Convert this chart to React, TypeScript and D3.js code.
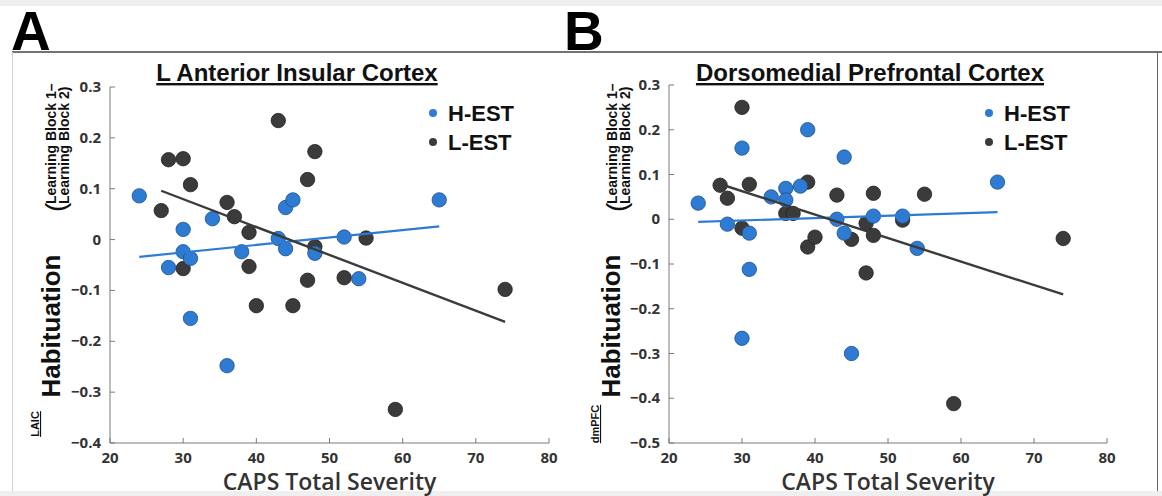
import React from "react";
import * as d3 from "d3";

// CAPS total severity ticks
const xTicks = [20, 30, 40, 50, 60, 70, 80];
const yTicksA = [0.3, 0.2, 0.1, 0, -0.1, -0.2, -0.3, -0.4];
const yTicksB = [0.3, 0.2, 0.1, 0, -0.1, -0.2, -0.3, -0.4, -0.5];

// panel A - L anterior insular cortex
const hestAx = [24, 28, 30, 30, 31, 31, 34, 38, 36, 43, 44, 44, 45, 48, 52, 54, 65];
const hestAy = [0.086, -0.055, 0.02, -0.024, -0.037, -0.155, 0.041, -0.024, -0.248, 0.002, -0.018, 0.063, 0.078, -0.027, 0.005, -0.077, 0.078];
const lestAx = [27, 28, 30, 31, 30, 36, 37, 39, 39, 40, 43, 48, 47, 48, 45, 47, 52, 55, 59, 74];
const lestAy = [0.057, 0.157, 0.159, 0.108, -0.057, 0.073, 0.045, 0.014, -0.053, -0.13, 0.234, 0.173, 0.118, -0.014, -0.13, -0.08, -0.075, 0.003, -0.334, -0.098];
const hestFitA = [[24, -0.034], [65, 0.026]];
const lestFitA = [[27, 0.096], [74, -0.162]];

// panel B - dorsomedial prefrontal cortex
const hestBx = [24, 28, 30, 31, 31, 30, 34, 36, 36, 38, 39, 43, 44, 44, 48, 52, 54, 45, 65];
const hestBy = [0.036, -0.011, 0.159, -0.031, -0.112, -0.266, 0.05, 0.069, 0.043, 0.074, 0.2, 0.0, 0.139, -0.031, 0.007, 0.007, -0.065, -0.3, 0.083];
const lestBx = [27, 28, 30, 30, 31, 36, 37, 39, 39, 40, 43, 45, 47, 47, 48, 48, 52, 55, 74, 59];
const lestBy = [0.076, 0.047, 0.25, -0.02, 0.078, 0.013, 0.013, 0.083, -0.062, -0.04, 0.054, -0.045, -0.009, -0.12, 0.058, -0.036, -0.002, 0.056, -0.043, -0.412];
const hestFitB = [[24, -0.006], [65, 0.016]];
const lestFitB = [[27.5, 0.076], [74, -0.168]];

const BLUE = "#2d7bd3";
const DARK = "#3b3b3b";
const AX = "#7a7a7a";
const TXT = "#333";
const tickFont = "'Open Sans', 'DejaVu Sans', sans-serif";
const arial = "'Liberation Sans', Arial, sans-serif";

const Panel = ({ left, right, top, bottom, yDomain, yTicks, hx, hy, lx, ly, hFit, lFit, title, titleX, legX }) => {
  const x = d3.scaleLinear().domain([20, 80]).range([left, right]);
  const y = d3.scaleLinear().domain(yDomain).range([bottom, top]);
  const line = d3.line().x((d) => x(d[0])).y((d) => y(d[1]));
  const fmt = (v) => (v === 0 ? "0" : d3.format(".1f")(v));
  return (
    <g>
      <text x={titleX} y={81} textAnchor="middle" fontFamily={arial} fontWeight="bold" fontSize={24} fill="#111" textDecoration="underline">
        {title}
      </text>
      {/* axes */}
      <line x1={left} x2={left} y1={top} y2={bottom} stroke={AX} />
      <line x1={left} x2={right} y1={bottom} y2={bottom} stroke={AX} />
      {yTicks.map((t) => (
        <g key={"y" + t}>
          <line x1={left} x2={left + 5} y1={y(t)} y2={y(t)} stroke={AX} />
          <text x={left - 9} y={y(t) + 5} textAnchor="end" fontFamily={tickFont} fontWeight="700" fontSize={15} fill={TXT}>
            {fmt(t)}
          </text>
        </g>
      ))}
      {xTicks.map((t) => (
        <g key={"x" + t}>
          <line x1={x(t)} x2={x(t)} y1={bottom} y2={bottom - 5} stroke={AX} />
          <text x={x(t)} y={bottom + 20} textAnchor="middle" fontFamily={tickFont} fontWeight="700" fontSize={15} fill={TXT}>
            {t}
          </text>
        </g>
      ))}
      <text x={(left + right) / 2} y={490} textAnchor="middle" fontFamily={tickFont} fontWeight="600" fontSize={23} fill={TXT}>
        CAPS Total Severity
      </text>
      {/* points */}
      {lx.map((v, i) => (
        <circle key={"l" + i} cx={x(v)} cy={y(ly[i])} r={7.2} fill={DARK} stroke="#222" strokeWidth={0.8} />
      ))}
      {hx.map((v, i) => (
        <circle key={"h" + i} cx={x(v)} cy={y(hy[i])} r={7.2} fill={BLUE} stroke="#1f4f8c" strokeWidth={0.8} />
      ))}
      <path d={line(hFit)} stroke={BLUE} strokeWidth={2.2} fill="none" />
      <path d={line(lFit)} stroke={DARK} strokeWidth={2.4} fill="none" />
      {/* legend */}
      <circle cx={legX} cy={113} r={4} fill={BLUE} />
      <text x={legX + 15} y={121} fontFamily={arial} fontWeight="bold" fontSize={22} fill="#111">H-EST</text>
      <circle cx={legX} cy={142} r={4} fill={DARK} />
      <text x={legX + 15} y={150} fontFamily={arial} fontWeight="bold" fontSize={22} fill="#111">L-EST</text>
    </g>
  );
};

const YLabel = ({ hx, sub, subX, lx }) => (
  <g fontFamily={arial} fontWeight="bold" fill="#111">
    <text transform={`translate(${hx},326) rotate(-90)`} textAnchor="middle" fontSize={26}>Habituation</text>
    <text transform={`translate(${subX},424) rotate(-90)`} textAnchor="middle" fontSize={11} textDecoration="underline">{sub}</text>
    <text transform={`translate(${lx + 9},212) rotate(-90)`} fontSize={28} fontWeight="normal">(</text>
    <text transform={`translate(${lx},204) rotate(-90)`} fontSize={14}>Learning Block 1–</text>
    <text transform={`translate(${lx + 13},204) rotate(-90)`} fontSize={14}>Learning Block 2)</text>
  </g>
);

export default function App() {
  return (
    <svg width={1162} height={496} style={{ display: "block", position: "absolute", left: 0, top: 0 }}>
      <rect width={1162} height={496} fill="#fff" />
      <rect width={1162} height={6} fill="#efefef" />
      <rect y={491} width={1162} height={5} fill="#efefef" />
      <line x1={12} x2={1162} y1={52} y2={52} stroke="#444" strokeWidth={1.5} />
      <line x1={12.5} x2={12.5} y1={52} y2={491} stroke="#cfcfcf" />
      <line x1={1157.5} x2={1157.5} y1={52} y2={491} stroke="#666" />
      <text x={11} y={50} fontFamily={arial} fontWeight="bold" fontSize={55} fill="#000">A</text>
      <text x={564} y={50} fontFamily={arial} fontWeight="bold" fontSize={55} fill="#000">B</text>

      <YLabel hx={60} sub="LAIC" subX={39} lx={56} />
      <YLabel hx={620} sub="dmPFC" subX={599} lx={617} />

      <Panel left={110} right={549} top={87} bottom={443} yDomain={[-0.4, 0.3]} yTicks={yTicksA}
        hx={hestAx} hy={hestAy} lx={lestAx} ly={lestAy} hFit={hestFitA} lFit={lestFitA}
        title="L Anterior Insular Cortex" titleX={297} legX={433} />
      <Panel left={669} right={1107} top={85} bottom={443} yDomain={[-0.5, 0.3]} yTicks={yTicksB}
        hx={hestBx} hy={hestBy} lx={lestBx} ly={lestBy} hFit={hestFitB} lFit={lestFitB}
        title="Dorsomedial Prefrontal Cortex" titleX={870} legX={989} />
    </svg>
  );
}
